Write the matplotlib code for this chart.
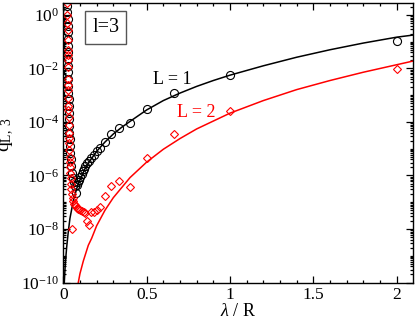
import matplotlib
matplotlib.use("Agg")
import matplotlib.pyplot as plt
import matplotlib.ticker as ticker
import numpy as np

plt.rcParams['font.family'] = ['Liberation Serif', 'DejaVu Serif']
plt.rcParams['mathtext.fontset'] = 'custom'
plt.rcParams['mathtext.rm'] = 'Liberation Serif'
plt.rcParams['mathtext.it'] = 'Liberation Serif:italic'

# lambda / R values of the computed points (shared by both series)
lam_L1 = [0.025, 0.025, 0.026, 0.026, 0.027, 0.027, 0.028, 0.028, 0.029, 0.029,
          0.030, 0.030, 0.031, 0.031, 0.032, 0.033, 0.034, 0.035, 0.036, 0.037,
          0.038, 0.040, 0.042, 0.045, 0.048, 0.052, 0.056, 0.062, 0.070, 0.076,
          0.080, 0.087, 0.095, 0.100, 0.111, 0.118, 0.125, 0.133, 0.143, 0.154,
          0.167, 0.182, 0.200, 0.222, 0.250, 0.286, 0.333, 0.400, 0.500, 0.667,
          1.000, 2.000]
logq_L1 = [0.35, 0.10, -0.15, -0.40, -0.65, -0.90, -1.15, -1.40, -1.65, -1.90,
           -2.15, -2.40, -2.65, -2.90, -3.15, -3.40, -3.65, -3.90, -4.15, -4.40,
           -4.65, -4.90, -5.15, -5.40, -5.65, -5.90, -6.10, -6.25, -6.40, -6.67,
           -6.35, -6.25, -6.15, -6.05, -5.95, -5.85, -5.75, -5.65, -5.55, -5.45,
           -5.35, -5.22, -5.08, -4.98, -4.74, -4.45, -4.24, -4.03, -3.53, -2.90,
           -2.25, -0.96]

lam_L2 = [0.024, 0.025, 0.025, 0.026, 0.026, 0.027, 0.027, 0.028, 0.028, 0.029,
          0.029, 0.030, 0.030, 0.031, 0.031, 0.032, 0.033, 0.034, 0.035, 0.036,
          0.037, 0.038, 0.039, 0.040, 0.042, 0.044, 0.046, 0.048, 0.050, 0.052,
          0.056, 0.060, 0.065, 0.070, 0.077, 0.083, 0.091, 0.100, 0.111, 0.125,
          0.133, 0.143, 0.154, 0.167, 0.182, 0.200, 0.222, 0.250, 0.286, 0.333,
          0.400, 0.500, 0.667, 1.000, 2.000]
logq_L2 = [0.45, 0.00, -0.30, -0.55, -0.95, -1.30, -1.50, -1.70, -1.95, -2.40,
           -2.60, -2.80, -3.10, -3.40, -3.55, -3.80, -4.10, -4.40, -4.60, -4.80,
           -5.05, -5.30, -5.50, -5.70, -5.90, -6.10, -6.30, -6.50, -8.00, -6.70,
           -6.85, -6.95, -7.05, -7.10, -7.15, -7.20, -7.25, -7.30, -7.33, -7.36,
           -7.42, -7.70, -7.85, -7.38, -7.35, -7.29, -7.17, -6.76, -6.38, -6.20,
           -6.44, -5.33, -4.46, -3.58, -2.03]

# theory curves
lam_c1 = [0.006, 0.012, 0.020, 0.030, 0.040, 0.060, 0.080, 0.100, 0.130, 0.160,
          0.200, 0.250, 0.300, 0.350, 0.400, 0.500, 0.600, 0.700, 0.800, 0.900,
          1.000, 1.200, 1.400, 1.600, 1.800, 2.000, 2.100]
logq_c1 = [-10.0, -9.3, -8.7, -8.1, -7.6, -6.95, -6.5, -6.17, -5.75, -5.45,
           -5.10, -4.75, -4.45, -4.20, -3.98, -3.55, -3.20, -2.92, -2.67, -2.45,
           -2.25, -1.90, -1.58, -1.30, -1.05, -0.83, -0.75]

lam_c2 = [0.090, 0.100, 0.120, 0.150, 0.170, 0.200, 0.250, 0.300, 0.400, 0.500,
          0.600, 0.700, 0.800, 1.000, 1.200, 1.400, 1.600, 1.800, 2.000, 2.100]
logq_c2 = [-10.0, -9.67, -9.20, -8.61, -8.35, -7.88, -7.30, -6.83, -6.08, -5.50,
           -5.02, -4.62, -4.26, -3.67, -3.20, -2.79, -2.45, -2.14, -1.86, -1.72]

fig = plt.figure(figsize=(4.15, 3.19), dpi=100)
ax = fig.add_axes([0.1525, 0.1144, 0.842, 0.8762])

ax.plot(lam_c1, 10.0 ** np.array(logq_c1), color='black', lw=1.1)
ax.plot(lam_c2, 10.0 ** np.array(logq_c2), color='red', lw=1.1)
ax.plot(lam_L1, 10.0 ** np.array(logq_L1), 'o', mfc='none', mec='black',
        ms=5.8, mew=0.8)
ax.plot(lam_L2, 10.0 ** np.array(logq_L2), 'D', mfc='none', mec='red',
        ms=4.0, mew=0.8)

ax.set_yscale('log')
ax.set_xlim(0, 2.096)
ax.set_ylim(1e-10, 2.8)

ax.xaxis.set_major_locator(ticker.MultipleLocator(0.5))
ax.xaxis.set_minor_locator(ticker.MultipleLocator(0.1))
ax.xaxis.set_major_formatter(ticker.FuncFormatter(lambda v, p: '%g' % v))
ax.yaxis.set_major_locator(ticker.LogLocator(base=100.0, numticks=20))
ax.yaxis.set_minor_locator(ticker.LogLocator(base=10.0, subs=np.arange(1, 10), numticks=40))
ax.yaxis.set_minor_formatter(ticker.NullFormatter())
ax.yaxis.set_major_formatter(ticker.FuncFormatter(
    lambda v, p: r'$10^{%d}$' % int(round(np.log10(v)))))

ax.tick_params(which='both', direction='in', top=True, right=True,
               labelsize=12.5, width=0.9, pad=3)
ax.tick_params(which='major', length=5)
ax.tick_params(which='minor', length=2.5)
for s in ax.spines.values():
    s.set_linewidth(1.0)

ax.set_xlabel(r'$\lambda$ / R', fontsize=13)
ax.xaxis.set_label_coords(0.5, -0.075)
ax.set_ylabel(r'q$_{\rm L,\ 3}$', fontsize=14)
ax.yaxis.set_label_coords(-0.135, 0.53)

ax.text(0.652, 10 ** -2.43, 'L = 1', color='black', fontsize=13,
        ha='center', va='center')
ax.text(0.80, 10 ** -3.66, 'L = 2', color='red', fontsize=13,
        ha='center', va='center')
ax.text(0.122, 0.912, 'l=3', transform=ax.transAxes, fontsize=14.5,
        ha='center', va='center',
        bbox=dict(boxstyle='square,pad=0.35', fc='white', ec='#555555', lw=1.0))

fig.savefig('out.png', dpi=100)
